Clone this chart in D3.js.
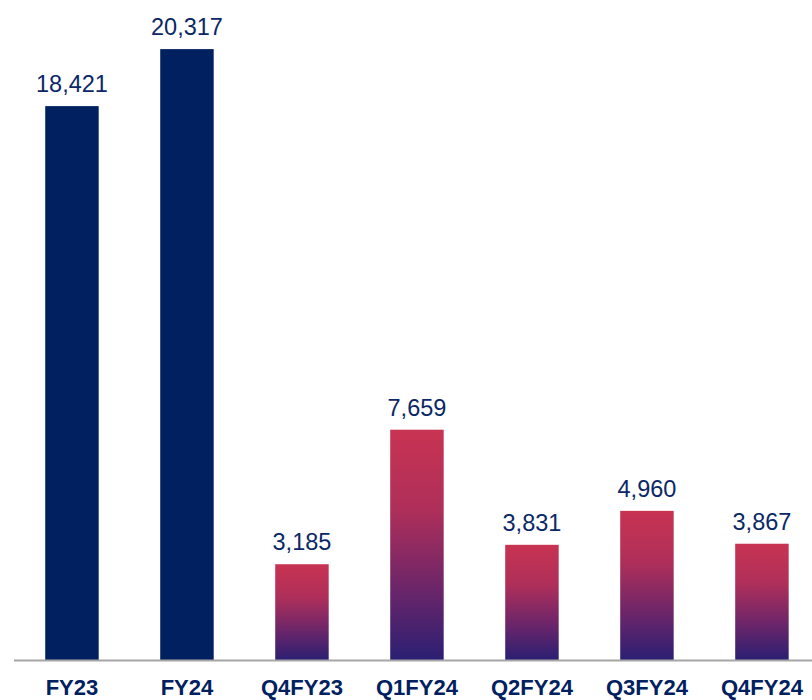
<!DOCTYPE html>
<html>
<head>
<meta charset="utf-8">
<script src="https://cdn.jsdelivr.net/npm/d3@7"></script>
<style>
  html, body { margin: 0; padding: 0; background: #ffffff; }
  svg { display: block; }
</style>
</head>
<body>
<div id="chart"></div>
<script>
// Periods shown along the bottom, and the value for each
const categories = ["FY23", "FY24", "Q4FY23", "Q1FY24", "Q2FY24", "Q3FY24", "Q4FY24"];
const values = [18421, 20317, 3185, 7659, 3831, 4960, 3867];
// Annual totals are solid navy; quarterly bars use the red-to-purple gradient
const kinds = ["annual", "annual", "quarter", "quarter", "quarter", "quarter", "quarter"];

const width = 812, height = 700;
const baseY = 660;

const svg = d3.select("#chart").append("svg")
  .attr("width", width)
  .attr("height", height);

const defs = svg.append("defs");
const grad = defs.append("linearGradient")
  .attr("id", "quarterFill")
  .attr("x1", 0).attr("y1", 0)
  .attr("x2", 0).attr("y2", 1);
grad.append("stop").attr("offset", "0%").attr("stop-color", "#c83352");
grad.append("stop").attr("offset", "35%").attr("stop-color", "#ae2f5a");
grad.append("stop").attr("offset", "70%").attr("stop-color", "#6a256a");
grad.append("stop").attr("offset", "100%").attr("stop-color", "#2b1f72");

const x = d3.scaleBand()
  .domain(categories)
  .range([-16.3, 850.2])
  .padding(0.535);

const y = d3.scaleLinear()
  .domain([0, 21950])
  .range([baseY, 0]);

const data = categories.map((c, i) => ({ cat: c, value: values[i], kind: kinds[i] }));

// Bars
svg.append("g")
  .selectAll("rect")
  .data(data)
  .join("rect")
  .attr("x", d => x(d.cat))
  .attr("y", d => y(d.value))
  .attr("width", x.bandwidth())
  .attr("height", d => baseY - y(d.value))
  .attr("fill", d => d.kind === "annual" ? "#002060" : "url(#quarterFill)");

// Baseline
svg.append("line")
  .attr("x1", 14).attr("x2", width)
  .attr("y1", baseY + 0.5).attr("y2", baseY + 0.5)
  .attr("stroke", "#a6a6a6")
  .attr("stroke-width", 2);

// Value labels above each bar
const fmt = d3.format(",");
svg.append("g")
  .selectAll("text")
  .data(data)
  .join("text")
  .attr("x", d => x(d.cat) + x.bandwidth() / 2)
  .attr("y", d => y(d.value) - 14)
  .attr("text-anchor", "middle")
  .attr("font-family", "'Liberation Sans', Arial, sans-serif")
  .attr("font-size", 23.5)
  .attr("fill", "#0a2766")
  .text(d => fmt(d.value));

// Category labels
const xAxis = d3.axisBottom(x).tickSize(0).tickPadding(0);
const axisG = svg.append("g")
  .attr("transform", `translate(0,${baseY})`)
  .call(xAxis);
axisG.select(".domain").remove();
axisG.selectAll("text")
  .attr("y", 35)
  .attr("dy", 0)
  .attr("font-family", "'Liberation Sans', Arial, sans-serif")
  .attr("font-size", 22)
  .attr("font-weight", "bold")
  .attr("fill", "#002060");
</script>
</body>
</html>
